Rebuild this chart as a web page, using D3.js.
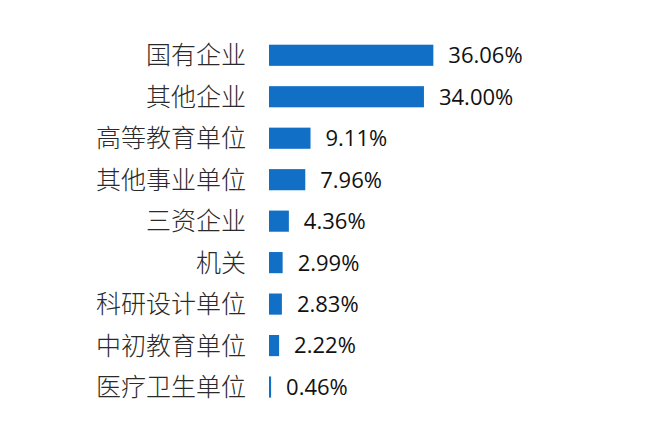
<!DOCTYPE html>
<html>
<head>
<meta charset="utf-8">
<script src="https://cdn.jsdelivr.net/npm/d3@7"></script>
<style>
	html, body { margin: 0; padding: 0; background: #fff; }
	svg { display: block; }
</style>
</head>
<body>
<div id="chart"></div>
<script>
// data
const categories = ["国有企业", "其他企业", "高等教育单位", "其他事业单位", "三资企业", "机关", "科研设计单位", "中初教育单位", "医疗卫生单位"];
const shares = [36.06, 34.00, 9.11, 7.96, 4.36, 2.99, 2.83, 2.22, 0.46];

const width = 672;
const height = 445;

const svg = d3.select("#chart")
	.append("svg")
	.attr("width", width)
	.attr("height", height);

const x = d3.scaleLinear().domain([0, 40]).range([269, 451.3]);
const y = d3.scaleBand()
	.domain(categories)
	.range([44.7, 397.6])
	.paddingInner(0.49)
	.paddingOuter(0);

const rows = svg.selectAll("g.row")
	.data(categories.map((c, i) => ({ name: c, value: shares[i] })))
	.join("g")
	.attr("class", "row");

rows.append("rect")
	.attr("x", x(0))
	.attr("y", d => y(d.name))
	.attr("width", d => x(d.value) - x(0))
	.attr("height", y.bandwidth())
	.attr("fill", "#1170c6");

// category labels, right aligned against the bars
rows.append("text")
	.attr("x", 246)
	.attr("y", d => y(d.name) + y.bandwidth() / 2)
	.attr("dy", "0.36em")
	.attr("text-anchor", "end")
	.attr("font-family", "'Noto Sans CJK SC', sans-serif")
	.attr("font-weight", 300)
	.attr("font-size", 25)
	.attr("fill", "#2a2a2a")
	.text(d => d.name);

// value labels
rows.append("text")
	.attr("x", d => x(d.value) + 15)
	.attr("y", d => y(d.name) + y.bandwidth() / 2)
	.attr("dy", "0.36em")
	.attr("font-family", "'Open Sans', sans-serif")
	.attr("font-size", 22)
	.attr("fill", "#111")
	.text(d => d.value.toFixed(2) + "%");
</script>
</body>
</html>
